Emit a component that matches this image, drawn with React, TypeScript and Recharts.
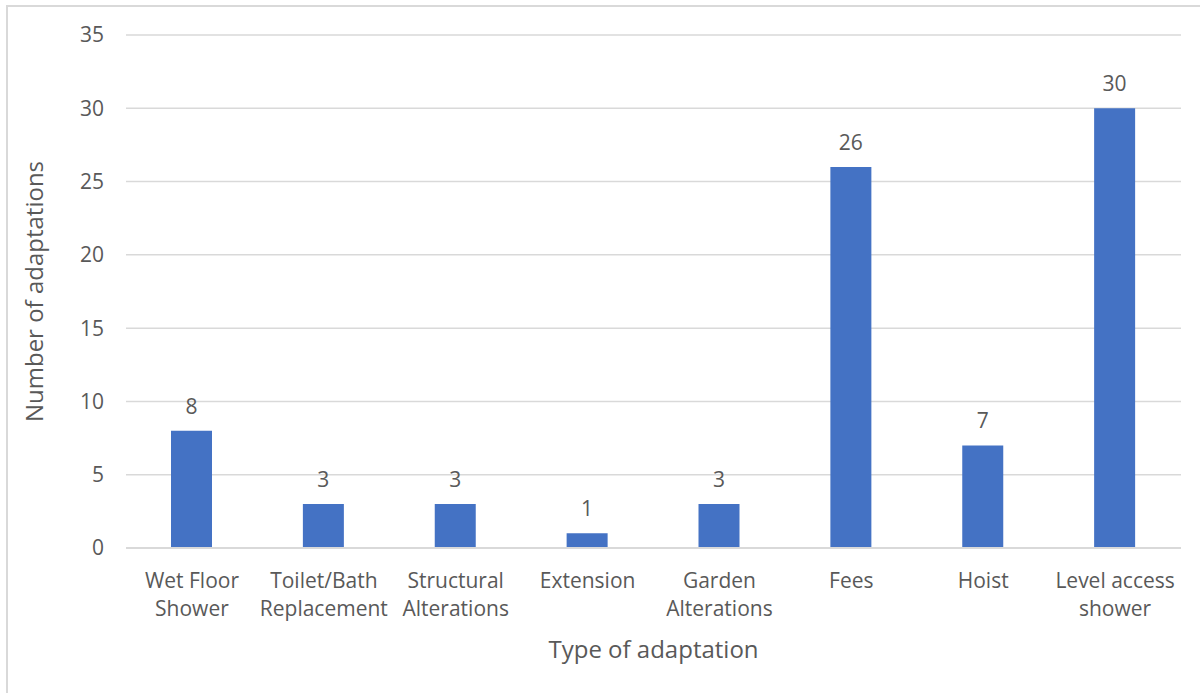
import { BarChart, Bar, XAxis, YAxis, CartesianGrid, LabelList } from 'recharts';

const CATEGORIES = [
    'Wet Floor|Shower',
    'Toilet/Bath|Replacement',
    'Structural|Alterations',
    'Extension',
    'Garden|Alterations',
    'Fees',
    'Hoist',
    'Level access|shower',
];
const COUNTS = [8, 3, 3, 1, 3, 26, 7, 30];
const Y_TICKS = [0, 5, 10, 15, 20, 25, 30, 35];

const FONT = '"Open Sans", Lato, sans-serif';
const TEXT = '#595959';
const GRID = '#d9d9d9';

const data = CATEGORIES.map((name, i) => ({ name, value: COUNTS[i] }));

const CategoryTick = ({ x, y, payload }: any) => {
    const lines = String(payload.value).split('|');
    return (
        <g transform={`translate(${x},${y})`}>
            <text textAnchor="middle" fill={TEXT} fontSize={21} fontFamily={FONT}>
                {lines.map((l, i) => (
                    <tspan key={i} x={0} y={40 + i * 28}>{l}</tspan>
                ))}
            </text>
        </g>
    );
};

const YTitle = ({ viewBox }: any) => {
    const cx = 33;
    const cy = viewBox.y + viewBox.height / 2;
    return (
        <text
            x={cx}
            y={cy}
            transform={`rotate(-90, ${cx}, ${cy})`}
            textAnchor="middle"
            dominantBaseline="central"
            fill={TEXT}
            fontSize={24}
            fontFamily={FONT}
        >
            Number of adaptations
        </text>
    );
};

const XTitle = ({ viewBox }: any) => {
    const cx = viewBox.x + viewBox.width / 2;
    return (
        <text x={cx} y={648} textAnchor="middle" dominantBaseline="central" fill={TEXT} fontSize={24} fontFamily={FONT}>
            Type of adaptation
        </text>
    );
};

const App = () => {
    return (
        <div style={{ position: 'absolute', left: 0, top: 0, width: 1200, height: 693, overflow: 'hidden', background: '#fff' }}>
            <div
                style={{
                    position: 'absolute',
                    left: 6,
                    top: 5,
                    width: 1210,
                    height: 710,
                    border: `2px solid ${GRID}`,
                    boxSizing: 'border-box',
                }}
            />
            <div style={{ position: 'absolute', left: 0, top: 0 }}>
                <BarChart width={1200} height={693} data={data} margin={{ top: 35, right: 19, bottom: 115, left: 0 }}>
                    <CartesianGrid vertical={false} stroke={GRID} strokeWidth={1.5} />
                    <XAxis
                        dataKey="name"
                        height={30}
                        axisLine={{ stroke: GRID, strokeWidth: 2 }}
                        tickLine={false}
                        tickSize={0}
                        tickMargin={0}
                        interval={0}
                        tick={<CategoryTick />}
                        label={<XTitle />}
                    />
                    <YAxis
                        width={126}
                        domain={[0, 35]}
                        ticks={Y_TICKS}
                        axisLine={false}
                        tickLine={false}
                        tickSize={0}
                        tickMargin={22}
                        tick={{ fill: TEXT, fontSize: 21, fontFamily: FONT }}
                        label={<YTitle />}
                    />
                    <Bar dataKey="value" fill="#4472C4" barSize={41} isAnimationActive={false}>
                        <LabelList dataKey="value" position="top" offset={17} fill={TEXT} fontSize={21} fontFamily={FONT} />
                    </Bar>
                </BarChart>
            </div>
        </div>
    );
};

export default App;
